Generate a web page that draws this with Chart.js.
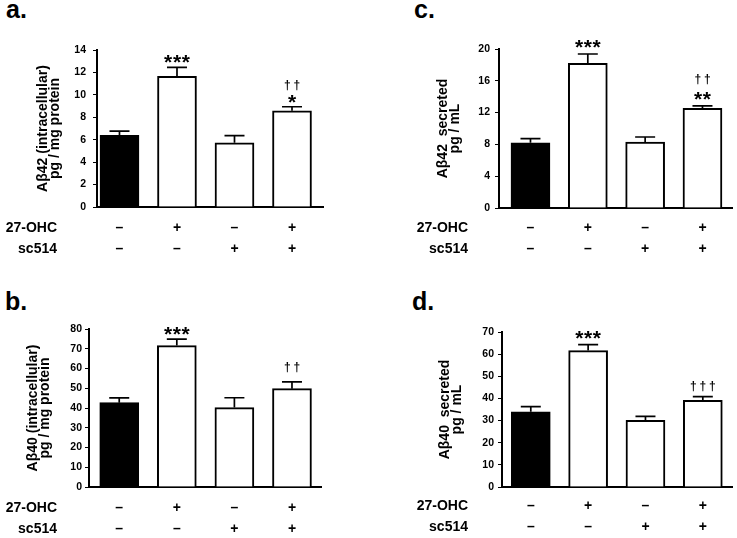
<!DOCTYPE html>
<html>
<head>
<meta charset="utf-8">
<script src="https://cdn.jsdelivr.net/npm/chart.js@4.4.1/dist/chart.umd.min.js"></script>
<style>
  html, body { margin: 0; padding: 0; background: #fff; }
  body { width: 737px; height: 538px; position: relative; overflow: hidden; font-family: 'Liberation Sans', Arial, sans-serif; }
  .panel { position: absolute; width: 368px; height: 269px; }
  .letter { position: absolute; font-weight: bold; font-size: 25px; line-height: 24px; color: #000; }
</style>
</head>
<body>
<div class="letter" style="left:6px;top:-3px">a.</div>
<div class="letter" style="left:414px;top:-3px">c.</div>
<div class="letter" style="left:5px;top:289px">b.</div>
<div class="letter" style="left:412px;top:289px">d.</div>

<div class="panel" style="left:0;top:0"><canvas id="chartA" width="368" height="269"></canvas></div>
<div class="panel" style="left:369px;top:0"><canvas id="chartC" width="368" height="269"></canvas></div>
<div class="panel" style="left:0;top:269px"><canvas id="chartB" width="368" height="269"></canvas></div>
<div class="panel" style="left:369px;top:269px"><canvas id="chartD" width="368" height="269"></canvas></div>

<script>
// treatment groups and the +/- table under each panel
const groups = ['control', '27-OHC', 'sc514', '27-OHC + sc514'];
const rowNames = ['27-OHC', 'sc514'];
const ohcRow = ['–', '+', '–', '+'];
const scRow = ['–', '–', '+', '+'];

// a. Abeta42 intracellular (pg / mg protein)
const ab42Intra = [6.40, 11.65, 5.72, 8.58];
const ab42IntraErr = [0.36, 0.80, 0.65, 0.36];
const ab42IntraTicks = [0, 2, 4, 6, 8, 10, 12, 14];
const ab42IntraStars = ['', '***', '', '*'];
const ab42IntraDaggers = ['', '', '', '††'];

// b. Abeta40 intracellular (pg / mg protein)
const ab40Intra = [42.7, 71.6, 40.2, 49.8];
const ab40IntraErr = [2.4, 3.3, 5.0, 3.4];
const ab40IntraTicks = [0, 10, 20, 30, 40, 50, 60, 70, 80];
const ab40IntraStars = ['', '***', '', ''];
const ab40IntraDaggers = ['', '', '', '††'];

// c. Abeta42 secreted (pg / mL)
const ab42Sec = [8.21, 18.19, 8.29, 12.55];
const ab42SecErr = [0.51, 1.18, 0.64, 0.29];
const ab42SecTicks = [0, 4, 8, 12, 16, 20];
const ab42SecStars = ['', '***', '', '**'];
const ab42SecDaggers = ['', '', '', '††'];

// d. Abeta40 secreted (pg / mL)
const ab40Sec = [34.0, 61.6, 30.1, 39.1];
const ab40SecErr = [2.3, 2.7, 1.8, 1.7];
const ab40SecTicks = [0, 10, 20, 30, 40, 50, 60, 70];
const ab40SecStars = ['', '***', '', ''];
const ab40SecDaggers = ['', '', '', '†††'];

const barFills = ['#000', '#fff', '#fff', '#fff'];
const FONT = "'Liberation Sans', Arial, sans-serif";

Chart.defaults.font.family = FONT;
Chart.defaults.color = '#000';

// draws a string one glyph at a time, ink centred on (cx, cy)
function drawMarks(ctx, text, cx, cy, font, pitch) {
  const chars = [...text].filter(c => c !== ' ');
  if (!chars.length) return;
  ctx.font = font;
  ctx.textAlign = 'center';
  ctx.textBaseline = 'alphabetic';
  chars.forEach((c, k) => {
    const m = ctx.measureText(c);
    const yb = cy + (m.actualBoundingBoxAscent - m.actualBoundingBoxDescent) / 2;
    ctx.fillText(c, cx + (k - (chars.length - 1) / 2) * pitch, yb);
  });
}

// error bars, significance marks and the row names of the table
const extras = {
  id: 'extras',
  afterDatasetsDraw(chart, args, opts) {
    const { ctx, chartArea } = chart;
    const xs = chart.scales.x, ys = chart.scales.y;
    ctx.save();
    ctx.strokeStyle = '#000';
    ctx.fillStyle = '#000';
    ctx.lineWidth = 1.7;
    opts.means.forEach((m, i) => {
      const px = xs.getPixelForValue(i);
      const yBar = ys.getPixelForValue(m);
      const yTop = ys.getPixelForValue(m + opts.errs[i]);
      ctx.beginPath();
      ctx.moveTo(px, yBar);
      ctx.lineTo(px, yTop);
      ctx.moveTo(px - 10, yTop);
      ctx.lineTo(px + 10, yTop);
      ctx.stroke();
      drawMarks(ctx, opts.stars[i], px, yTop - opts.starGap, 'bold 21px ' + FONT, 8.8);
      drawMarks(ctx, opts.daggers[i], px, yTop - opts.daggerGap, 'bold 12px ' + FONT, 9.5);
    });
    ctx.font = 'bold 14px ' + FONT;
    ctx.textAlign = 'right';
    ctx.textBaseline = 'middle';
    rowNames.forEach((name, k) => {
      ctx.fillText(name, opts.rowRight, chartArea.bottom + opts.rowOffset + k * 21);
    });
    ctx.restore();
  }
};

function makeChart(id, p) {
  const top = p.ticks[p.ticks.length - 1];
  return new Chart(document.getElementById(id), {
    type: 'bar',
    data: {
      datasets: [{
        label: p.title[0],
        data: p.means.map((v, i) => ({ x: i, y: v })),
        backgroundColor: barFills,
        borderColor: '#000',
        borderWidth: 2,
        borderSkipped: 'start',
        barThickness: 39,
      }],
    },
    options: {
      responsive: false,
      animation: false,
      events: [],
      layout: {
        padding: { left: 0, top: p.area.top, right: 368 - p.area.right, bottom: 0 },
      },
      scales: {
        x: {
          type: 'linear',
          min: p.xMin,
          max: p.xMax,
          offset: false,
          afterBuildTicks: (s) => { s.ticks = groups.map((g, i) => ({ value: i })); },
          afterFit: (s) => { s.height = 269 - p.area.bottom; },
          grid: { display: false, drawTicks: false, tickLength: 0 },
          border: { display: true, color: '#000', width: 2 },
          ticks: {
            autoSkip: false,
            maxRotation: 0,
            padding: p.rowOffset - 10.5,
            font: { size: 14, weight: 'bold', lineHeight: '21px' },
            callback: (v, i) => [ohcRow[i], scRow[i]],
          },
        },
        y: {
          min: 0,
          max: top,
          afterBuildTicks: (s) => { s.ticks = p.ticks.map(v => ({ value: v })); },
          afterFit: (s) => { s.width = p.area.left; },
          grid: { drawOnChartArea: false, color: '#000', lineWidth: 1, tickLength: 4 },
          border: { color: '#000', width: 2 },
          ticks: {
            padding: p.labelGap - 4,
            font: { size: 10.5, weight: 'bold' },
          },
          title: {
            display: true,
            text: p.title,
            font: { size: 14, weight: 'bold', lineHeight: '12px' },
            padding: { top: p.titleX - 6, bottom: 0 },
          },
        },
      },
      plugins: {
        legend: { display: false },
        tooltip: { enabled: false },
        extras: {
          means: p.means,
          errs: p.errs,
          stars: p.stars,
          daggers: p.daggers,
          starGap: p.starGap,
          daggerGap: p.daggerGap,
          rowRight: p.rowRight,
          rowOffset: p.rowOffset,
        },
      },
    },
    plugins: [extras],
  });
}

makeChart('chartA', {
  title: ['Aβ42 (intracellular)', 'pg / mg protein'],
  means: ab42Intra, errs: ab42IntraErr, ticks: ab42IntraTicks,
  stars: ab42IntraStars, daggers: ab42IntraDaggers,
  area: { left: 97, right: 323, top: 50, bottom: 207 },
  xMin: -0.391, xMax: 3.539,
  labelGap: 11, titleX: 43, rowRight: 57, rowOffset: 21,
  starGap: 8, daggerGap: 21,
});

makeChart('chartB', {
  title: ['Aβ40 (intracellular)', 'pg / mg protein'],
  means: ab40Intra, errs: ab40IntraErr, ticks: ab40IntraTicks,
  stars: ab40IntraStars, daggers: ab40IntraDaggers,
  area: { left: 89, right: 321, top: 60, bottom: 218 },
  xMin: -0.525, xMax: 3.504,
  labelGap: 7, titleX: 33, rowRight: 57, rowOffset: 21,
  starGap: 8, daggerGap: 14,
});

makeChart('chartC', {
  title: ['Aβ42  secreted', 'pg / mL'],
  means: ab42Sec, errs: ab42SecErr, ticks: ab42SecTicks,
  stars: ab42SecStars, daggers: ab42SecDaggers,
  area: { left: 130, right: 363, top: 49, bottom: 208 },
  xMin: -0.549, xMax: 3.515,
  labelGap: 9, titleX: 74, rowRight: 99, rowOffset: 20.5,
  starGap: 10, daggerGap: 26,
});

makeChart('chartD', {
  title: ['Aβ40  secreted', 'pg / mL'],
  means: ab40Sec, errs: ab40SecErr, ticks: ab40SecTicks,
  stars: ab40SecStars, daggers: ab40SecDaggers,
  area: { left: 133, right: 363, top: 63, bottom: 218 },
  xMin: -0.502, xMax: 3.509,
  labelGap: 8, titleX: 76, rowRight: 99, rowOffset: 19,
  starGap: 10, daggerGap: 10,
});
</script>
</body>
</html>
